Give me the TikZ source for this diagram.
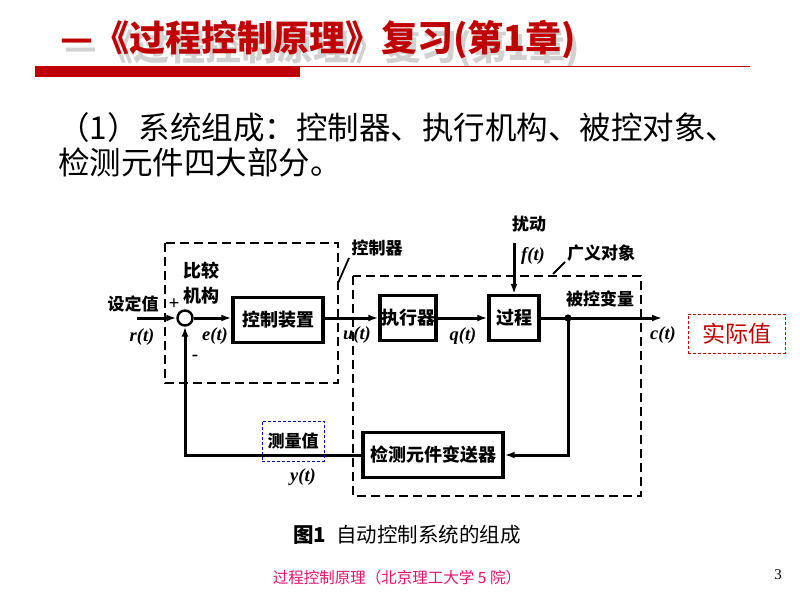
\documentclass[tikz,border=0pt]{standalone}
\usepackage{fontspec}
\setmainfont{Liberation Serif}
\newfontfamily\cjk{Noto Sans CJK SC}
\usetikzlibrary{arrows.meta}
\definecolor{titlered}{HTML}{C00000}
\definecolor{footpink}{HTML}{E0156E}
\definecolor{realred}{HTML}{C00000}
\begin{document}
\begin{tikzpicture}[x=1pt,y=-1pt,
  sig/.style={line width=3pt,-{Latex[length=10pt,width=7pt]}},
  blk/.style={draw,line width=3.4pt,minimum height=45pt,inner sep=0pt,font=\cjk\bfseries\fontsize{18}{18}\selectfont},
  grp/.style={line width=2.4pt,dash pattern=on 9pt off 5pt},
  lbl/.style={font=\cjk\bfseries\fontsize{17}{17}\selectfont,inner sep=0pt},
  mlbl/.style={font=\bfseries\itshape\fontsize{18.5}{18.5}\selectfont,inner sep=0pt},
]
\useasboundingbox (0,0) rectangle (800,600);
% title
\node[anchor=west,text=black!18,font=\cjk\bfseries\fontsize{36}{36}\selectfont,inner sep=0pt] (titlesh) at (64,49) {—《过程控制原理》复习(第1章)};
\node[anchor=west,text=titlered,font=\cjk\bfseries\fontsize{36}{36}\selectfont,inner sep=0pt] (title) at (60,40) {—《过程控制原理》复习(第1章)};
\fill[titlered] (35,66) rectangle (300,77);
\draw[titlered,line width=1pt] (300,66.5) -- (750,66.5);
% body text
\node[anchor=west,font=\cjk\fontsize{31.5}{31.5}\selectfont,inner sep=0pt] (t1) at (58,128) {（1）系统组成：控制器、执行机构、被控对象、};
\node[anchor=west,font=\cjk\fontsize{31.5}{31.5}\selectfont,inner sep=0pt] (t2) at (58,162) {检测元件四大部分。};
% group boxes
\draw[grp] (165,243) rectangle (338,383);
\draw[grp] (353,276) rectangle (641,496);
\coordinate (l1a) at (338,283); \coordinate (l1b) at (349,258);
\draw[line width=1.8pt] (l1a) -- (l1b);
\node[lbl] (ctrlr) at (377,248) {控制器};
\coordinate (l2a) at (553,274); \coordinate (l2b) at (565,262);
\draw[line width=1.8pt] (l2a) -- (l2b);
\node[lbl] (gyd) at (601,253) {广义对象};
% blocks
\node[draw,circle,line width=2.4pt,minimum size=15pt,inner sep=0pt] (sum) at (185,318) {};
\node[blk,minimum width=90pt] (ctrl) at (278,320) {控制装置};
\node[blk,minimum width=56pt] (act) at (408,318) {执行器};
\node[blk,minimum width=50pt] (proc) at (514,318) {过程};
\node[blk,minimum width=140pt] (meas) at (433,455) {检测元件变送器};
\fill (568,318) circle (3.6pt);
\coordinate (dot) at (568,318);
\coordinate (in) at (137,318);
\coordinate (out) at (662,318);
\coordinate (dist) at (514,243);
\coordinate (fbr) at (568,455);
\coordinate (fbl) at (185,455);
% connections
\draw[sig] (in) -- (sum);
\draw[sig] (sum) -- (ctrl.west|-sum);
\draw[sig] (ctrl.east|-act) -- (act);
\draw[sig] (act) -- (proc);
\draw[sig] (proc) -- (out);
\draw[sig] (dist) -- (proc.north);
\draw[sig] (dot) -- (fbr) -- (meas.east);
\draw[sig] (meas.west) -- (fbl) -- (sum.south);
% labels
\node[lbl] (sdz) at (133,304) {设定值};
\node[font=\bfseries\fontsize{19}{19}\selectfont,inner sep=0pt] (plus) at (174,304) {+};
\node[font=\bfseries\fontsize{19}{19}\selectfont,inner sep=0pt] (minus) at (195,358) {-};
\node[lbl,font=\cjk\bfseries\fontsize{18}{18}\selectfont] (bj1) at (201,271) {比较};
\node[lbl,font=\cjk\bfseries\fontsize{18}{18}\selectfont] (bj2) at (201,296) {机构};
\node[mlbl] (rt) at (142,337) {r(t)};
\node[mlbl] (et) at (215,336) {e(t)};
\node[mlbl] (ut) at (357,335) {u(t)};
\node[mlbl] (qt) at (463,336) {q(t)};
\node[mlbl] (ft) at (533,256) {f(t)};
\node[mlbl] (ct) at (663,335) {c(t)};
\node[mlbl] (yt) at (303,477) {y(t)};
\node[lbl] (rd) at (529,224) {扰动};
\node[lbl] (bkbl) at (600,299) {被控变量};
\node[lbl,draw=blue!70!black,densely dashed,line width=0.6pt,minimum width=62pt,minimum height=40pt] (clz) at (293,441) {测量值};
\node[draw=realred,densely dashed,line width=0.8pt,minimum width=97pt,minimum height=39pt,text=realred,font=\cjk\fontsize{23}{23}\selectfont,inner sep=0pt] (sjz) at (736.5,333.5) {实际值};
% caption & footer
\node[font=\cjk\fontsize{20.5}{20.5}\selectfont,inner sep=0pt] (cap) at (407,535) {{\bfseries 图1}\hspace{10pt}自动控制系统的组成};
\node[text=footpink,font=\cjk\fontsize{15.5}{15.5}\selectfont,inner sep=0pt] (foot) at (397,578) {过程控制原理（北京理工大学 5 院）};
\node[font=\fontsize{15}{15}\selectfont,inner sep=0pt] (pg) at (778,575) {3};
\end{tikzpicture}
\end{document}
